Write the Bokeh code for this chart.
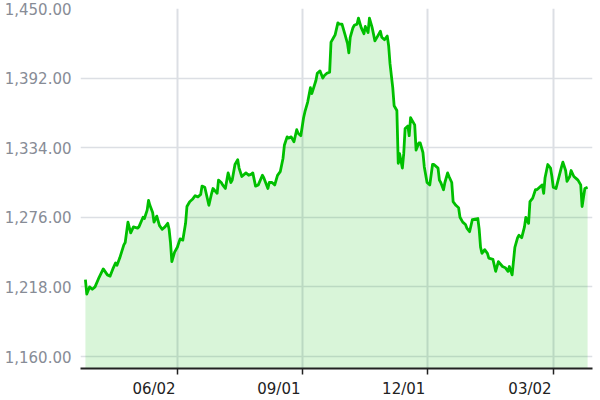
import pandas as pd
from bokeh.plotting import figure
from bokeh.models import Range1d, FixedTicker, NumeralTickFormatter, ColumnDataSource, DatetimeAxis
from bokeh.embed import file_html
from bokeh.resources import INLINE

dates = [
    "2023-03-27", "2023-03-28", "2023-03-30", "2023-04-01", "2023-04-03", "2023-04-06",
    "2023-04-09", "2023-04-12", "2023-04-14", "2023-04-16", "2023-04-18", "2023-04-19",
    "2023-04-21", "2023-04-24", "2023-04-25", "2023-04-27", "2023-04-29", "2023-05-01",
    "2023-05-04", "2023-05-05", "2023-05-08", "2023-05-09", "2023-05-11", "2023-05-12",
    "2023-05-13", "2023-05-15", "2023-05-16", "2023-05-18", "2023-05-20", "2023-05-22",
    "2023-05-24", "2023-05-26", "2023-05-27", "2023-05-28", "2023-05-29", "2023-05-31",
    "2023-06-02", "2023-06-04", "2023-06-06", "2023-06-08", "2023-06-09", "2023-06-11",
    "2023-06-13", "2023-06-15", "2023-06-17", "2023-06-19", "2023-06-20", "2023-06-22",
    "2023-06-25", "2023-06-27", "2023-06-28", "2023-07-01", "2023-07-02", "2023-07-04",
    "2023-07-05", "2023-07-07", "2023-07-09", "2023-07-11", "2023-07-12", "2023-07-14",
    "2023-07-16", "2023-07-17", "2023-07-19", "2023-07-22", "2023-07-24", "2023-07-26",
    "2023-07-27", "2023-07-29", "2023-07-31", "2023-08-03", "2023-08-04", "2023-08-07",
    "2023-08-08", "2023-08-10", "2023-08-12", "2023-08-14", "2023-08-16", "2023-08-18",
    "2023-08-19", "2023-08-21", "2023-08-22", "2023-08-24", "2023-08-26", "2023-08-28",
    "2023-08-29", "2023-08-31", "2023-09-02", "2023-09-03", "2023-09-05", "2023-09-07",
    "2023-09-08", "2023-09-11", "2023-09-12", "2023-09-14", "2023-09-16", "2023-09-17",
    "2023-09-19", "2023-09-21", "2023-09-22", "2023-09-24", "2023-09-25", "2023-09-27",
    "2023-09-28", "2023-09-30", "2023-10-02", "2023-10-04", "2023-10-05", "2023-10-06",
    "2023-10-08", "2023-10-09", "2023-10-11", "2023-10-12", "2023-10-14", "2023-10-16",
    "2023-10-17", "2023-10-19", "2023-10-20", "2023-10-22", "2023-10-24", "2023-10-26",
    "2023-10-28", "2023-10-29", "2023-10-31", "2023-11-02", "2023-11-03", "2023-11-04",
    "2023-11-06", "2023-11-07", "2023-11-09", "2023-11-10", "2023-11-11", "2023-11-13",
    "2023-11-14", "2023-11-15", "2023-11-17", "2023-11-18", "2023-11-19", "2023-11-20",
    "2023-11-22", "2023-11-23", "2023-11-25", "2023-11-26", "2023-11-28", "2023-11-29",
    "2023-12-01", "2023-12-03", "2023-12-05", "2023-12-06", "2023-12-09", "2023-12-10",
    "2023-12-11", "2023-12-13", "2023-12-14", "2023-12-16", "2023-12-17", "2023-12-19",
    "2023-12-20", "2023-12-22", "2023-12-24", "2023-12-25", "2023-12-27", "2023-12-29",
    "2023-12-30", "2024-01-01", "2024-01-03", "2024-01-07", "2024-01-08", "2024-01-09",
    "2024-01-10", "2024-01-12", "2024-01-14", "2024-01-15", "2024-01-18", "2024-01-20",
    "2024-01-22", "2024-01-25", "2024-01-27", "2024-01-29", "2024-01-30", "2024-02-01",
    "2024-02-03", "2024-02-05", "2024-02-06", "2024-02-08", "2024-02-10", "2024-02-11",
    "2024-02-13", "2024-02-14", "2024-02-16", "2024-02-18", "2024-02-19", "2024-02-22",
    "2024-02-23", "2024-02-24", "2024-02-25", "2024-02-27", "2024-02-29", "2024-03-01",
    "2024-03-02", "2024-03-04", "2024-03-06", "2024-03-08", "2024-03-09", "2024-03-11",
    "2024-03-12", "2024-03-14", "2024-03-15", "2024-03-17", "2024-03-19", "2024-03-20",
    "2024-03-22", "2024-03-23", "2024-03-25", "2024-03-27",
]

values = [
    1224, 1212, 1218, 1216, 1218, 1226,
    1233, 1228, 1227, 1233, 1238, 1236,
    1242, 1253, 1255, 1272, 1263, 1268,
    1267, 1268, 1276, 1275, 1282, 1290,
    1286, 1280, 1272, 1277, 1269, 1266,
    1268, 1271, 1266, 1255, 1239, 1247,
    1251, 1258, 1257, 1271, 1285, 1289,
    1291, 1294, 1293, 1295, 1302, 1301,
    1286, 1296, 1300, 1296, 1307, 1305,
    1303, 1300, 1313, 1305, 1307, 1320,
    1324, 1317, 1310, 1313, 1311, 1312,
    1313, 1302, 1303, 1311, 1309, 1300,
    1305, 1305, 1303, 1311, 1314, 1325,
    1336, 1343, 1342, 1343, 1339, 1349,
    1346, 1344, 1359, 1364, 1372, 1384,
    1379, 1390, 1396, 1398, 1392, 1394,
    1396, 1397, 1422, 1426, 1428, 1438,
    1437, 1437, 1429, 1421, 1413, 1426,
    1434, 1436, 1437, 1442, 1434, 1429,
    1435, 1430, 1442, 1434, 1423, 1427,
    1431, 1426, 1424, 1427, 1419, 1404,
    1384, 1369, 1365, 1321, 1329, 1317,
    1329, 1350, 1352, 1344, 1359, 1357,
    1353, 1332, 1338, 1338, 1330, 1318,
    1305, 1303, 1320, 1320, 1317, 1307,
    1305, 1299, 1305, 1313, 1310, 1305,
    1289, 1286, 1284, 1276, 1272, 1270,
    1267, 1264, 1274, 1275, 1266, 1251,
    1246, 1249, 1246, 1242, 1241, 1231,
    1239, 1235, 1234, 1231, 1235, 1228,
    1251, 1259, 1261, 1259, 1268, 1276,
    1271, 1289, 1292, 1299, 1299, 1302,
    1303, 1296, 1309, 1320, 1317, 1310,
    1301, 1300, 1309, 1318, 1322, 1315,
    1306, 1310, 1315, 1310, 1308, 1307,
    1303, 1285, 1300, 1301,
]

y_ticks = [1160, 1218, 1276, 1334, 1392, 1450]
x_tick_dates = ["2023-06-02", "2023-09-01", "2023-12-01", "2024-03-02"]
x_tick_labels = ["06/02", "09/01", "12/01", "03/02"]

Y_MIN, Y_MAX = 1150, 1450
X_START, X_END = "2023-03-23 10:00", "2024-03-30 14:00"

LINE = "#00bf00"
FONT = "DejaVu Sans"

src = ColumnDataSource(dict(x=pd.to_datetime(dates), y=values))

p = figure(
    width=600, height=400,
    x_axis_type="datetime",
    x_range=Range1d(pd.Timestamp(X_START), pd.Timestamp(X_END)),
    y_range=Range1d(Y_MIN, Y_MAX),
    output_backend="svg", toolbar_location=None,
    min_border_left=80, min_border_right=8, min_border_top=8, min_border_bottom=31,
)
p.outline_line_color = None
p.background_fill_color = "white"

tick_ms = [int(pd.Timestamp(d).timestamp() * 1000) for d in x_tick_dates]

# main x axis: line + tick marks only
ax = p.xaxis[0]
ax.ticker = FixedTicker(ticks=tick_ms)
ax.axis_line_color = "#222222"
ax.axis_line_width = 2
ax.major_tick_line_color = "#222222"
ax.major_tick_line_width = 1.5
ax.major_tick_out = 6
ax.major_tick_in = 0
ax.minor_tick_line_color = None
ax.major_label_standoff = 0
ax.major_label_text_font_size = "0px"
ax.major_label_text_color = None

# label axis: labels end at their tick (right-aligned look)
SHIFT_MS = 17 * 24 * 3600 * 1000
label_ticks = [t - SHIFT_MS for t in tick_ms]
lab_ax = DatetimeAxis(
    ticker=FixedTicker(ticks=label_ticks),
    major_label_overrides={t: s for t, s in zip(label_ticks, x_tick_labels)},
    axis_line_color=None, major_tick_line_color=None, minor_tick_line_color=None,
    major_tick_out=0, major_tick_in=0,
    major_label_standoff=5,
    major_label_text_font=FONT, major_label_text_font_size="15px",
    major_label_text_color="#222222",
)
p.add_layout(lab_ax, "below")

# y axis
p.yaxis.ticker = FixedTicker(ticks=y_ticks)
p.yaxis.formatter = NumeralTickFormatter(format="0,0.00")
p.yaxis.axis_line_color = None
p.yaxis.major_tick_line_color = None
p.yaxis.minor_tick_line_color = None
p.yaxis.major_tick_out = 0
p.yaxis.major_tick_in = 0
p.yaxis.major_label_standoff = 9
p.yaxis.major_label_text_font = FONT
p.yaxis.major_label_text_font_size = "15px"
p.yaxis.major_label_text_color = "#878c96"

# grids
p.xgrid.grid_line_color = "#dcdfe4"
p.xgrid.grid_line_width = 2
p.ygrid.grid_line_color = "#dcdfe4"
p.ygrid.grid_line_width = 1.5

p.varea(x="x", y1=Y_MIN, y2="y", source=src, fill_color=LINE, fill_alpha=0.15)
p.line(x="x", y="y", source=src, line_color=LINE, line_width=2.8, line_join="round")

open("out.html", "w").write(file_html(p, INLINE))
